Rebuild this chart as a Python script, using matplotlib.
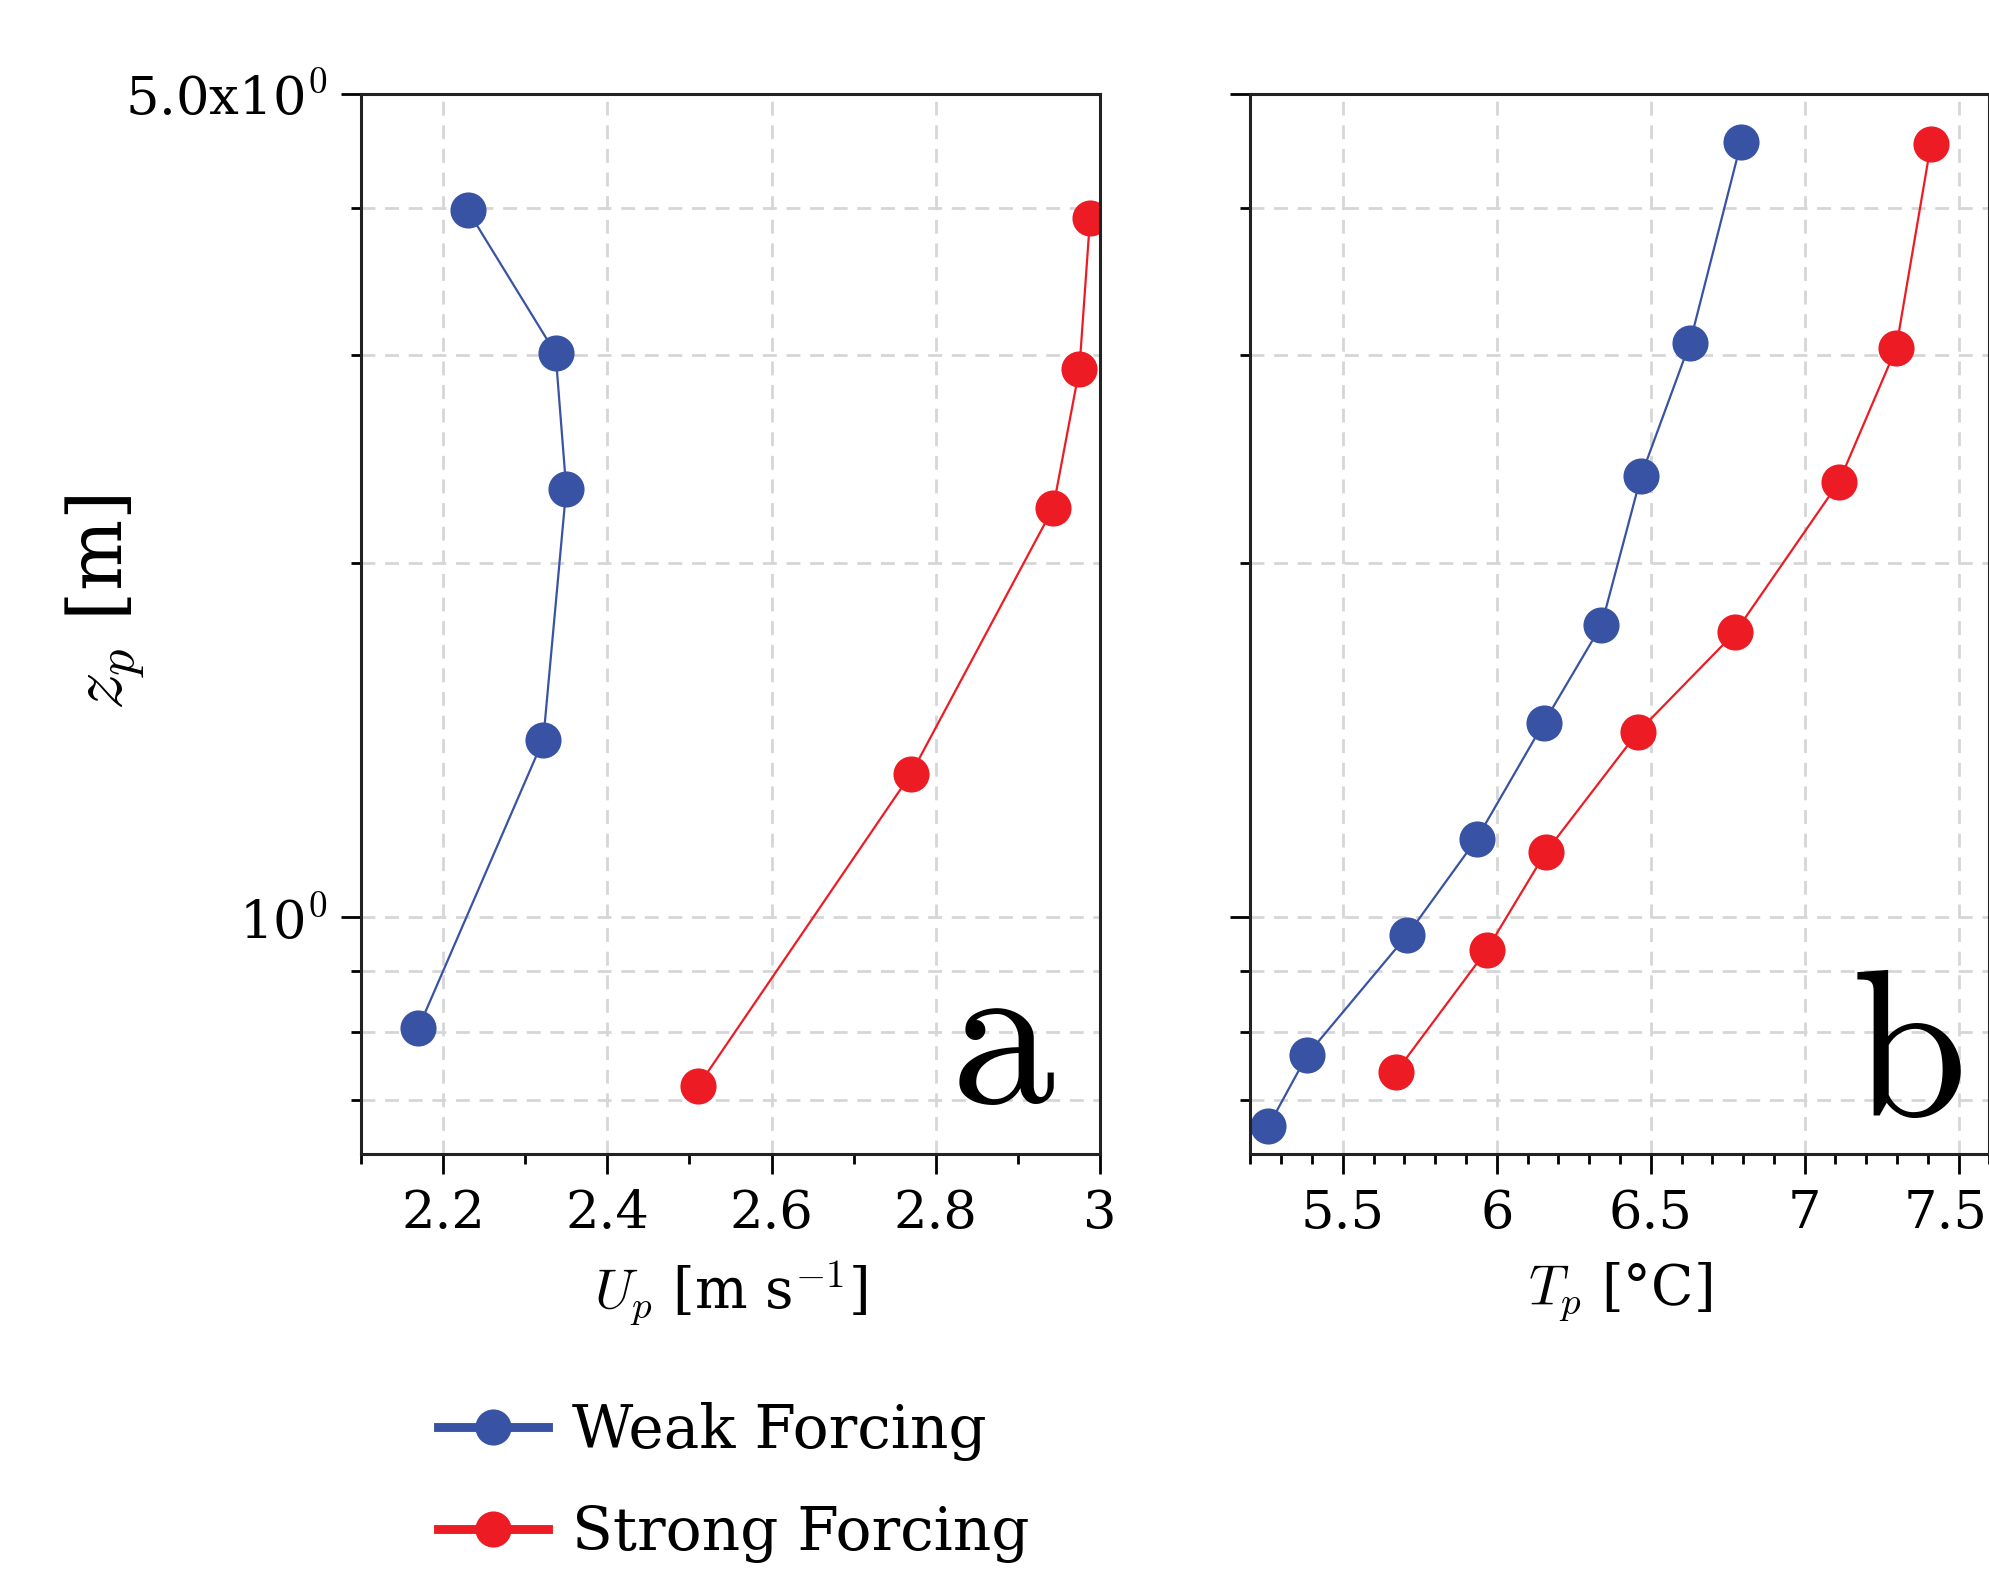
import matplotlib
matplotlib.use('Agg')
import matplotlib.pyplot as plt
import matplotlib.transforms as mtransforms
from matplotlib.lines import Line2D
from matplotlib.ticker import MultipleLocator, NullFormatter

plt.rcParams['font.family'] = ['DejaVu Serif']
plt.rcParams['mathtext.fontset'] = 'cm'

# panel a: wind speed profiles
u_weak = [2.23, 2.337, 2.35, 2.322, 2.17]
z_u_weak = [3.98, 3.01, 2.31, 1.415, 0.806]
u_strong = [2.988, 2.975, 2.943, 2.77, 2.511]
z_u_strong = [3.92, 2.92, 2.225, 1.324, 0.72]

# panel b: temperature profiles
t_weak = [6.794, 6.627, 6.469, 6.34, 6.153, 5.935, 5.709, 5.385, 5.258]
z_t_weak = [4.55, 3.07, 2.37, 1.77, 1.463, 1.166, 0.966, 0.765, 0.665]
t_strong = [7.41, 7.297, 7.111, 6.774, 6.458, 6.159, 5.967, 5.672]
z_t_strong = [4.53, 3.04, 2.34, 1.745, 1.436, 1.136, 0.938, 0.739]

labels = ['Weak Forcing', 'Strong Forcing']
blue = '#3953a4'
red = '#ed1c24'

fig = plt.figure(figsize=(9.945, 7.875), dpi=200)
ax1 = fig.add_axes([0.1815, 0.2673, 0.3715, 0.6733])
ax2 = fig.add_axes([0.6287, 0.2673, 0.3715, 0.6733])

ax1.plot(u_weak, z_u_weak, '-o', color=blue, lw=0.8, ms=12)
ax1.plot(u_strong, z_u_strong, '-o', color=red, lw=0.8, ms=12)
ax2.plot(t_weak, z_t_weak, '-o', color=blue, lw=0.8, ms=12)
ax2.plot(t_strong, z_t_strong, '-o', color=red, lw=0.8, ms=12)

ax1.set_xlim(2.1, 3.0)
ax1.set_xticks([2.2, 2.4, 2.6, 2.8, 3.0], ['2.2', '2.4', '2.6', '2.8', '3'])
ax2.set_xlim(5.2, 7.6)
ax2.set_xticks([5.5, 6, 6.5, 7, 7.5], ['5.5', '6', '6.5', '7', '7.5'])

for ax in (ax1, ax2):
    ax.set_yscale('log')
    ax.set_ylim(0.63, 5.0)
    ax.set_yticks([1, 5], ['10$^{0}$', '5.0x10$^{0}$'])
    ax.set_yticks([0.7, 0.8, 0.9, 2, 3, 4], minor=True)
    ax.yaxis.set_minor_formatter(NullFormatter())
    ax.xaxis.set_minor_locator(MultipleLocator(0.1))
    ax.set_axisbelow(True)
    ax.grid(which='both', axis='y', color='#d6d6d6', lw=1.0, ls=(0, (5, 3.5)))
    ax.grid(which='major', axis='x', color='#d6d6d6', lw=1.0, ls=(0, (5, 3.5)))
    ax.tick_params(which='major', direction='out', length=7.2, width=1.0, labelsize=19, pad=5)
    ax.tick_params(which='minor', direction='out', length=3.6, width=1.0)
    for s in ax.spines.values():
        s.set_linewidth(1.1)
        s.set_color('#222222')

ax2.tick_params(labelleft=False)

# the last label sits right at the figure edge, nudge it left so it stays visible
last = ax2.xaxis.get_major_ticks()[-1].label1
last.set_transform(last.get_transform() +
                   mtransforms.ScaledTranslation(-4.5 / 72, 0, fig.dpi_scale_trans))

ax1.set_xlabel(r'$U_p$ [m s$^{-1}$]', fontsize=20)
ax2.set_xlabel(r'$T_p$ [°C]', fontsize=20)
ax1.xaxis.set_label_coords(0.5, -0.10)
ax2.xaxis.set_label_coords(0.5, -0.10)
ax1.set_ylabel(r'$z_p$ [m]', fontsize=27)
ax1.yaxis.set_label_coords(-0.29, 0.52)

ax1.text(0.868, 0.048, r'$\mathrm{a}$', transform=ax1.transAxes, fontsize=75,
         ha='center', va='baseline')
ax2.text(0.887, 0.036, r'$\mathrm{b}$', transform=ax2.transAxes, fontsize=75,
         ha='center', va='baseline')

handles = [Line2D([], [], color=blue, lw=3.2, marker='o', ms=12),
           Line2D([], [], color=red, lw=3.2, marker='o', ms=12)]
fig.legend(handles, labels, loc='center left', bbox_to_anchor=(0.22, 0.0588),
           frameon=False, fontsize=21.5, handlelength=1.85, handletextpad=0.4,
           labelspacing=0.72, borderpad=0, borderaxespad=0)

fig.savefig('out.png', dpi=200)
